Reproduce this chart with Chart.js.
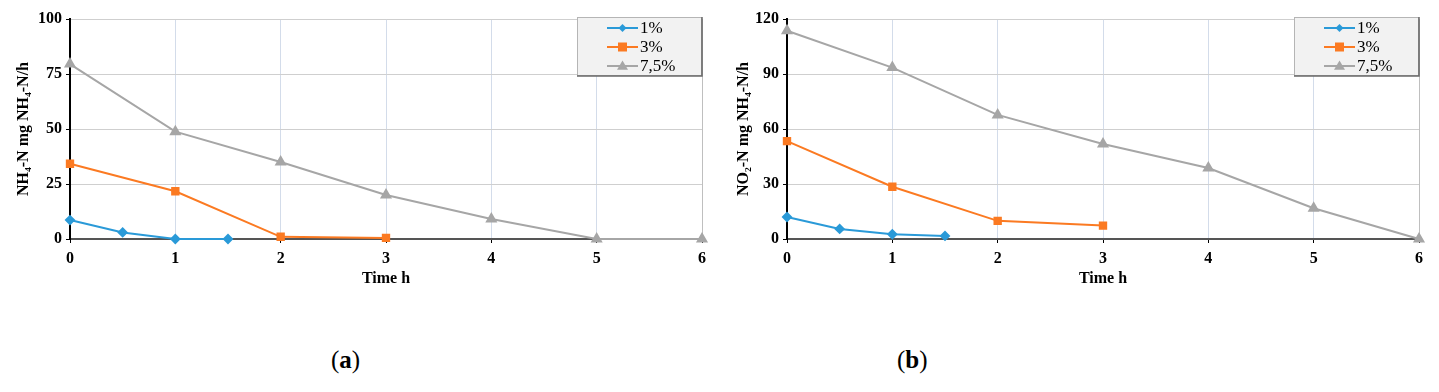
<!DOCTYPE html>
<html><head><meta charset="utf-8">
<script src="https://cdn.jsdelivr.net/npm/chart.js@4/dist/chart.umd.min.js"></script>
<style>
html,body{margin:0;padding:0;background:#fff;width:1439px;height:392px;overflow:hidden;}
.wrap{position:absolute;top:0;height:300px;}
.cap{position:absolute;top:346px;font-family:"Liberation Serif","Times New Roman",serif;font-size:25px;color:#000;}
</style></head><body>
<div class="wrap" style="left:0;width:720px"><canvas id="ca" width="720" height="300"></canvas></div>
<div class="wrap" style="left:720px;width:719px"><canvas id="cb" width="719" height="300"></canvas></div>
<div class="cap" style="left:331px">(<b>a</b>)</div>
<div class="cap" style="left:897px">(<b>b</b>)</div>
<script>
// ---- data ----
const seriesLabels = ["1%", "3%", "7,5%"];
const time1 = [0, 0.5, 1, 1.5];
const time3 = [0, 1, 2, 3];
const time75 = [0, 1, 2, 3, 4, 5, 6];
// (a) NH4-N
const a1 = [8.6, 3.0, 0, 0];
const a3 = [34.2, 21.7, 1.0, 0.5];
const a75 = [79.5, 48.8, 35.0, 20.0, 9.1, 0, 0];
// (b) NO2-N
const b1 = [12.0, 5.5, 2.6, 1.7];
const b3 = [53.4, 28.5, 9.9, 7.3];
const b75 = [113.6, 93.5, 67.7, 51.8, 38.7, 16.8, 0];
const yTitleA = "NH\u2084-N mg NH\u2084-N/h";
const yTitleB = "NO\u2082-N mg NH\u2084-N/h";
const xTitle = "Time h";

const BLUE = "#2a9ad8", ORANGE = "#fb7a22", GRAY = "#a6a6a6";
const SERIF = "'Liberation Serif','Times New Roman',serif";

function pts(xs, ys){ return xs.map((x,i)=>({x:x, y:ys[i]})); }

function drawMarker(ctx, style, x, y, color){
  ctx.save(); ctx.fillStyle = color; ctx.beginPath();
  if(style==='rectRot'){ const r=4; ctx.moveTo(x,y-r); ctx.lineTo(x+r,y); ctx.lineTo(x,y+r); ctx.lineTo(x-r,y); }
  else if(style==='rect'){ const r=4.5; ctx.rect(x-r,y-r,2*r,2*r); }
  else { const r=5.5; ctx.moveTo(x,y-r); ctx.lineTo(x+r,y+r*0.7); ctx.lineTo(x-r,y+r*0.7); }
  ctx.closePath(); ctx.fill(); ctx.restore();
}

const legendBox = {
  id:'legendBox',
  afterDraw(chart){
    const ctx = chart.ctx, ca = chart.chartArea;
    const w = 125, h = 59, x = ca.right - w, y = ca.top - 2;
    ctx.save();
    ctx.fillStyle = '#f2f2f2'; ctx.fillRect(x, y, w, h);
    ctx.strokeStyle = '#b5b5b5'; ctx.lineWidth = 1; ctx.strokeRect(x+0.5, y+0.5, w-1, h-1);
    ctx.strokeStyle = '#6a6a6a'; ctx.lineWidth = 1.5;
    ctx.beginPath(); ctx.moveTo(x, y+h); ctx.lineTo(x+w, y+h); ctx.lineTo(x+w, y); ctx.stroke();
    ctx.font = "17px " + SERIF; ctx.textBaseline = 'middle'; ctx.fillStyle = '#000';
    chart.data.datasets.forEach((ds, i) => {
      const cy = y + 11 + i*19;
      ctx.strokeStyle = ds.borderColor; ctx.lineWidth = 2;
      ctx.beginPath(); ctx.moveTo(x+30, cy); ctx.lineTo(x+61, cy); ctx.stroke();
      drawMarker(ctx, ds.pointStyle, x+45.5, cy, ds.borderColor);
      ctx.fillText(ds.label, x+63, cy+1);
    });
    ctx.restore();
  }
};

function makeChart(id, d1, d3, d75, yMax, yStep, yTitle, yWidth, padRight){
  new Chart(document.getElementById(id), {
    type: 'line',
    data: { datasets: [
      {label: seriesLabels[0], data: pts(time1, d1), borderColor: BLUE, backgroundColor: BLUE, pointStyle:'rectRot', pointRadius:4, borderWidth:2, clip:false},
      {label: seriesLabels[1], data: pts(time3, d3), borderColor: ORANGE, backgroundColor: ORANGE, pointStyle:'rect', pointRadius:4.5, borderWidth:2, clip:false},
      {label: seriesLabels[2], data: pts(time75, d75), borderColor: GRAY, backgroundColor: GRAY, pointStyle:'triangle', pointRadius:5, borderWidth:2, clip:false}
    ]},
    options: {
      responsive:false, animation:false, devicePixelRatio:1,
      layout:{padding:{left:0, right:padRight, top:19, bottom:0}},
      plugins:{legend:{display:false}, tooltip:{enabled:false}},
      elements:{line:{tension:0}, point:{borderWidth:0}},
      scales:{
        x:{type:'linear', min:0, max:6,
          ticks:{stepSize:1, color:'#000', font:{family:SERIF, size:16, weight:'bold'}, padding:6},
          grid:{color:(c)=> c.tick && c.tick.value===6 ? '#bfbfbf' : '#d3dcea', lineWidth:1, tickLength:4, tickColor:'#000'},
          border:{color:'#555', width:2},
          title:{display:true, text:xTitle, color:'#000', font:{family:SERIF, size:16, weight:'bold'}, padding:{top:0,bottom:12}},
          afterFit:(s)=>{ s.height = 61; }
        },
        y:{min:0, max:yMax,
          ticks:{stepSize:yStep, color:'#000', font:{family:SERIF, size:16, weight:'bold'}, padding:4},
          grid:{color:'#cfcfcf', lineWidth:1, tickLength:4, tickColor:'#000'},
          border:{color:'#000', width:2},
          title:{display:true, text:yTitle, color:'#000', font:{family:SERIF, size:16, weight:'bold'}, padding:{top:14,bottom:0}},
          afterFit:(s)=>{ s.width = yWidth; }
        }
      }
    },
    plugins:[legendBox]
  });
}

makeChart('ca', a1, a3, a75, 100, 25, yTitleA, 70, 18);
makeChart('cb', b1, b3, b75, 120, 30, yTitleB, 67, 20);
</script>
</body></html>
